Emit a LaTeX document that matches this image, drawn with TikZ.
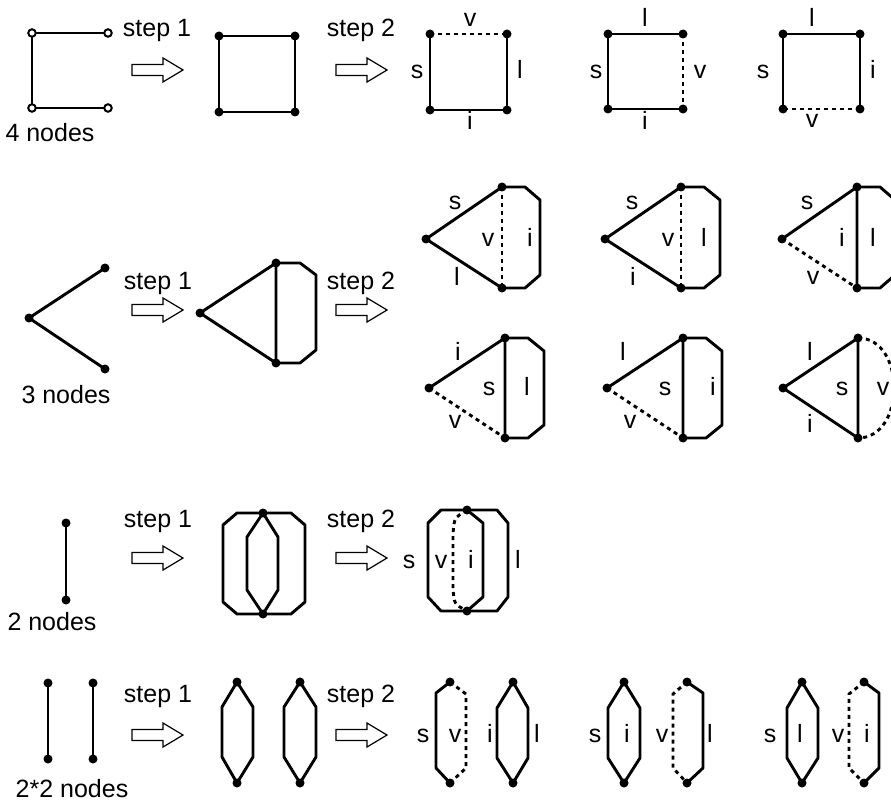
\documentclass[tikz,border=0pt]{standalone}
\usepackage{fontspec}
\setmainfont{Liberation Sans}
\begin{document}
\begin{tikzpicture}[x=1pt,y=-1pt,
  edge/.style={line width=2.9pt, line join=round, line cap=round},
  dashedge/.style={line width=2.9pt, dash pattern=on 4pt off 4pt},
  dot/.style={circle, fill=black, inner sep=0pt, minimum size=9pt},
  odot/.style={circle, draw=black, fill=white, line width=2pt, inner sep=0pt, minimum size=7.5pt},
  lbl/.style={anchor=base, inner sep=0pt, font=\fontsize{25}{30}\selectfont},
  harrow/.pic={\draw[line width=1.2pt, fill=white] (0,-5.5) -- (31,-5.5) -- (31,-12) -- (51,0) -- (31,12) -- (31,5.5) -- (0,5.5) -- cycle;}]
\useasboundingbox (0,0) rectangle (891,802);
\clip (0,0) rectangle (891,802);

% ---------------- Row 1 : 4 nodes ----------------
\coordinate (q1) at (32,33); \coordinate (q2) at (108,33);
\coordinate (q3) at (32,108); \coordinate (q4) at (108,108);
\draw[edge] (q2) -- (q1) -- (q3) -- (q4);
\foreach \c in {q1,q2,q3,q4} \node[odot] (o-\c) at (\c) {};
\node[lbl] (n4) at (50,142) {4 nodes};
\node[lbl] (s11) at (157,37) {step 1};
\pic (ar11) at (132,70) {harrow};
\node[lbl] (s12) at (361,37) {step 2};
\pic (ar12) at (336,70) {harrow};

\coordinate (s01) at (219,36); \coordinate (s02) at (295,36);
\coordinate (s03) at (295,112); \coordinate (s04) at (219,112);
\draw[edge] (s01) -- (s02) -- (s03) -- (s04) -- cycle;

% square A
\coordinate (a1) at (430,34); \coordinate (a2) at (507,34);
\coordinate (a3) at (507,110); \coordinate (a4) at (430,110);
\draw[dashedge] (a1) -- (a2);
\draw[edge] (a2) -- (a3) -- (a4) -- (a1);
\node[lbl] (la1) at (470,27) {v};
\node[lbl] (la2) at (417,79) {s};
\node[lbl] (la3) at (520,79) {l};
\node[lbl] (la4) at (470,130) {i};
% square B
\coordinate (b1) at (608,34); \coordinate (b2) at (683,34);
\coordinate (b3) at (683,109); \coordinate (b4) at (608,109);
\draw[edge] (b2) -- (b1) -- (b4) -- (b3);
\draw[dashedge] (b2) -- (b3);
\node[lbl] (lb1) at (645,27) {l};
\node[lbl] (lb2) at (596,79) {s};
\node[lbl] (lb3) at (700,79) {v};
\node[lbl] (lb4) at (645,130) {i};
% square C
\coordinate (c1) at (783,34); \coordinate (c2) at (860,34);
\coordinate (c3) at (860,109); \coordinate (c4) at (783,109);
\draw[edge] (c4) -- (c1) -- (c2) -- (c3);
\draw[dashedge] (c3) -- (c4);
\node[lbl] (lc1) at (812,27) {l};
\node[lbl] (lc2) at (763,79) {s};
\node[lbl] (lc3) at (873,79) {i};
\node[lbl] (lc4) at (812,128) {v};
\foreach \c in {s01,s02,s03,s04,a1,a2,a3,a4,b1,b2,b3,b4,c1,c2,c3,c4} \node[dot] (d-\c) at (\c) {};

% ---------------- Row 2 : 3 nodes ----------------
\coordinate (t0) at (105,268); \coordinate (v0) at (29,318); \coordinate (b0) at (105,369);
\draw[edge] (t0) -- (v0) -- (b0);
\node[lbl] (n3) at (66,403) {3 nodes};
\node[lbl] (s21) at (158,289) {step 1};
\pic (ar21) at (132,310) {harrow};
\node[lbl] (s22) at (361,289) {step 2};
\pic (ar22) at (336,310) {harrow};

\coordinate (mv) at (200,313); \coordinate (mt) at (276,263); \coordinate (mb) at (276,363);
\draw[edge] (mt) -- (mv) -- (mb) -- (mt);
\draw[edge] (mt) -- (300,263) -- (316,275) -- (316,350) -- (300,363) -- (mb);

% variant 1
\coordinate (V1v) at (426,239); \coordinate (V1t) at (502,187); \coordinate (V1b) at (502,288);
\draw[edge] (V1b) -- (V1v) -- (V1t);
\draw[dashedge] (V1t) -- (V1b);
\draw[edge] (V1t) -- (525,187) -- (540,200) -- (540,275) -- (525,288) -- (V1b);
\node[lbl] (l11) at (455,210) {s};
\node[lbl] (l12) at (457,285) {l};
\node[lbl] (l13) at (488,247) {v};
\node[lbl] (l14) at (530,247) {i};
% variant 2
\coordinate (V2v) at (605,239); \coordinate (V2t) at (681,187); \coordinate (V2b) at (681,288);
\draw[edge] (V2b) -- (V2v) -- (V2t);
\draw[dashedge] (V2t) -- (V2b);
\draw[edge] (V2t) -- (704,187) -- (720,200) -- (720,275) -- (704,288) -- (V2b);
\node[lbl] (l21) at (632,210) {s};
\node[lbl] (l22) at (633,285) {i};
\node[lbl] (l23) at (668,247) {v};
\node[lbl] (l24) at (704,247) {l};
% variant 3
\coordinate (V3v) at (782,239); \coordinate (V3t) at (857,187); \coordinate (V3b) at (857,288);
\draw[edge] (V3v) -- (V3t) -- (V3b);
\draw[dashedge] (V3v) -- (V3b);
\draw[edge] (V3t) -- (880,187) -- (895,200) -- (895,275) -- (880,288) -- (V3b);
\node[lbl] (l31) at (807,210) {s};
\node[lbl] (l32) at (813,284) {v};
\node[lbl] (l33) at (842,247) {i};
\node[lbl] (l34) at (873,247) {l};
% variant 4
\coordinate (V4v) at (429,388); \coordinate (V4t) at (505,338); \coordinate (V4b) at (505,438);
\draw[edge] (V4v) -- (V4t) -- (V4b);
\draw[dashedge] (V4v) -- (V4b);
\draw[edge] (V4t) -- (528,338) -- (544,351) -- (544,425) -- (528,438) -- (V4b);
\node[lbl] (l41) at (458,360) {i};
\node[lbl] (l42) at (489,395) {s};
\node[lbl] (l43) at (527,395) {l};
\node[lbl] (l44) at (455,428) {v};
% variant 5
\coordinate (V5v) at (607,388); \coordinate (V5t) at (683,338); \coordinate (V5b) at (683,438);
\draw[edge] (V5v) -- (V5t) -- (V5b);
\draw[dashedge] (V5v) -- (V5b);
\draw[edge] (V5t) -- (706,338) -- (722,351) -- (722,425) -- (706,438) -- (V5b);
\node[lbl] (l51) at (623,360) {l};
\node[lbl] (l52) at (665,395) {s};
\node[lbl] (l53) at (713,395) {i};
\node[lbl] (l54) at (630,428) {v};
% variant 6
\coordinate (V6v) at (783,388); \coordinate (V6t) at (858,338); \coordinate (V6b) at (858,438);
\draw[edge] (V6b) -- (V6v) -- (V6t) -- (V6b);
\draw[dashedge] (V6t) .. controls (906,338) and (906,438) .. (V6b);
\node[lbl] (l61) at (810,360) {l};
\node[lbl] (l62) at (842,395) {s};
\node[lbl] (l63) at (883,395) {v};
\node[lbl] (l64) at (810,432) {i};
\foreach \c in {t0,v0,b0,mv,mt,mb,V1v,V1t,V1b,V2v,V2t,V2b,V3v,V3t,V3b,V4v,V4t,V4b,V5v,V5t,V5b,V6v,V6t,V6b} \node[dot] (d-\c) at (\c) {};

% ---------------- Row 3 : 2 nodes ----------------
\coordinate (p1) at (66,523); \coordinate (p2) at (66,600);
\draw[edge] (p1) -- (p2);
\node[lbl] (n2) at (52,630) {2 nodes};
\node[lbl] (s31) at (158,527) {step 1};
\pic (ar31) at (132,558) {harrow};
\node[lbl] (s32) at (361,527) {step 2};
\pic (ar32) at (336,558) {harrow};

\coordinate (ot) at (263,513); \coordinate (ob) at (263,614);
\draw[edge] (ot) -- (291,513) -- (305,525) -- (305,602) -- (291,614) -- (ob) -- (237,614) -- (223,602) -- (223,525) -- (237,513) -- cycle;
\draw[edge] (ot) -- (247,537) -- (247,590) -- (ob) -- (278,590) -- (278,537) -- cycle;

\coordinate (rt) at (467,510); \coordinate (rb) at (467,611);
\draw[edge] (rt) -- (441,510) -- (428,523) -- (428,597) -- (441,611) -- (rb);
\draw[edge] (rt) -- (483,523) -- (483,597) -- (rb);
\draw[edge] (rt) -- (497,510) -- (508,523) -- (508,597) -- (497,611) -- (rb);
\draw[dashedge] (rt) .. controls (454,518) .. (453,535) -- (453,588) .. controls (454,604) .. (rb);
\node[lbl] (r3s) at (409,568) {s};
\node[lbl] (r3v) at (441,568) {v};
\node[lbl] (r3i) at (471,568) {i};
\node[lbl] (r3l) at (518,568) {l};
\foreach \c in {p1,p2,ot,ob,rt,rb} \node[dot] (d-\c) at (\c) {};

% ---------------- Row 4 : 2*2 nodes ----------------
\coordinate (e1) at (48,683); \coordinate (e2) at (48,759);
\coordinate (e3) at (93,683); \coordinate (e4) at (93,759);
\draw[edge] (e1) -- (e2);
\draw[edge] (e3) -- (e4);
\node[lbl] (n22) at (72,797) {2*2 nodes};
\node[lbl] (s41) at (158,702) {step 1};
\pic (ar41) at (132,735) {harrow};
\node[lbl] (s42) at (361,702) {step 2};
\pic (ar42) at (336,735) {harrow};

\coordinate (k1t) at (237,682); \coordinate (k1b) at (237,783);
\draw[edge] (k1t) -- (253,707) -- (253,757) -- (k1b) -- (222,757) -- (222,707) -- cycle;
\coordinate (k2t) at (300,682); \coordinate (k2b) at (300,783);
\draw[edge] (k2t) -- (316,707) -- (316,757) -- (k2b) -- (284,757) -- (284,707) -- cycle;

% variant 1
\coordinate (h1t) at (450,682); \coordinate (h1b) at (450,783);
\draw[edge] (h1t) -- (436,693) -- (436,768) -- (h1b);
\draw[dashedge] (h1t) -- (466,694) -- (466,768) -- (h1b);
\coordinate (g1t) at (513,682); \coordinate (g1b) at (513,783);
\draw[edge] (g1t) -- (528,708) -- (528,758) -- (g1b) -- (497,758) -- (497,708) -- cycle;
\node[lbl] (w1s) at (423,742) {s};
\node[lbl] (w1v) at (455,742) {v};
\node[lbl] (w1i) at (490,742) {i};
\node[lbl] (w1l) at (537,742) {l};
% variant 2
\coordinate (g2t) at (624,682); \coordinate (g2b) at (624,783);
\draw[edge] (g2t) -- (640,708) -- (640,758) -- (g2b) -- (608,758) -- (608,708) -- cycle;
\coordinate (h2t) at (687,682); \coordinate (h2b) at (687,783);
\draw[dashedge] (h2t) -- (673,694) -- (673,768) -- (h2b);
\draw[edge] (h2t) -- (703,693) -- (703,768) -- (h2b);
\node[lbl] (w2s) at (595,742) {s};
\node[lbl] (w2i) at (627,742) {i};
\node[lbl] (w2v) at (662,742) {v};
\node[lbl] (w2l) at (710,742) {l};
% variant 3
\coordinate (g3t) at (802,682); \coordinate (g3b) at (802,783);
\draw[edge] (g3t) -- (818,708) -- (818,758) -- (g3b) -- (787,758) -- (787,708) -- cycle;
\coordinate (h3t) at (864,682); \coordinate (h3b) at (864,783);
\draw[dashedge] (h3t) -- (849,694) -- (849,768) -- (h3b);
\draw[edge] (h3t) -- (879,693) -- (879,768) -- (h3b);
\node[lbl] (w3s) at (770,742) {s};
\node[lbl] (w3l) at (800,742) {l};
\node[lbl] (w3v) at (838,742) {v};
\node[lbl] (w3i) at (867,742) {i};
\foreach \c in {e1,e2,e3,e4,k1t,k1b,k2t,k2b,h1t,h1b,g1t,g1b,g2t,g2b,h2t,h2b,g3t,g3b,h3t,h3b} \node[dot] (d-\c) at (\c) {};
\end{tikzpicture}
\end{document}
